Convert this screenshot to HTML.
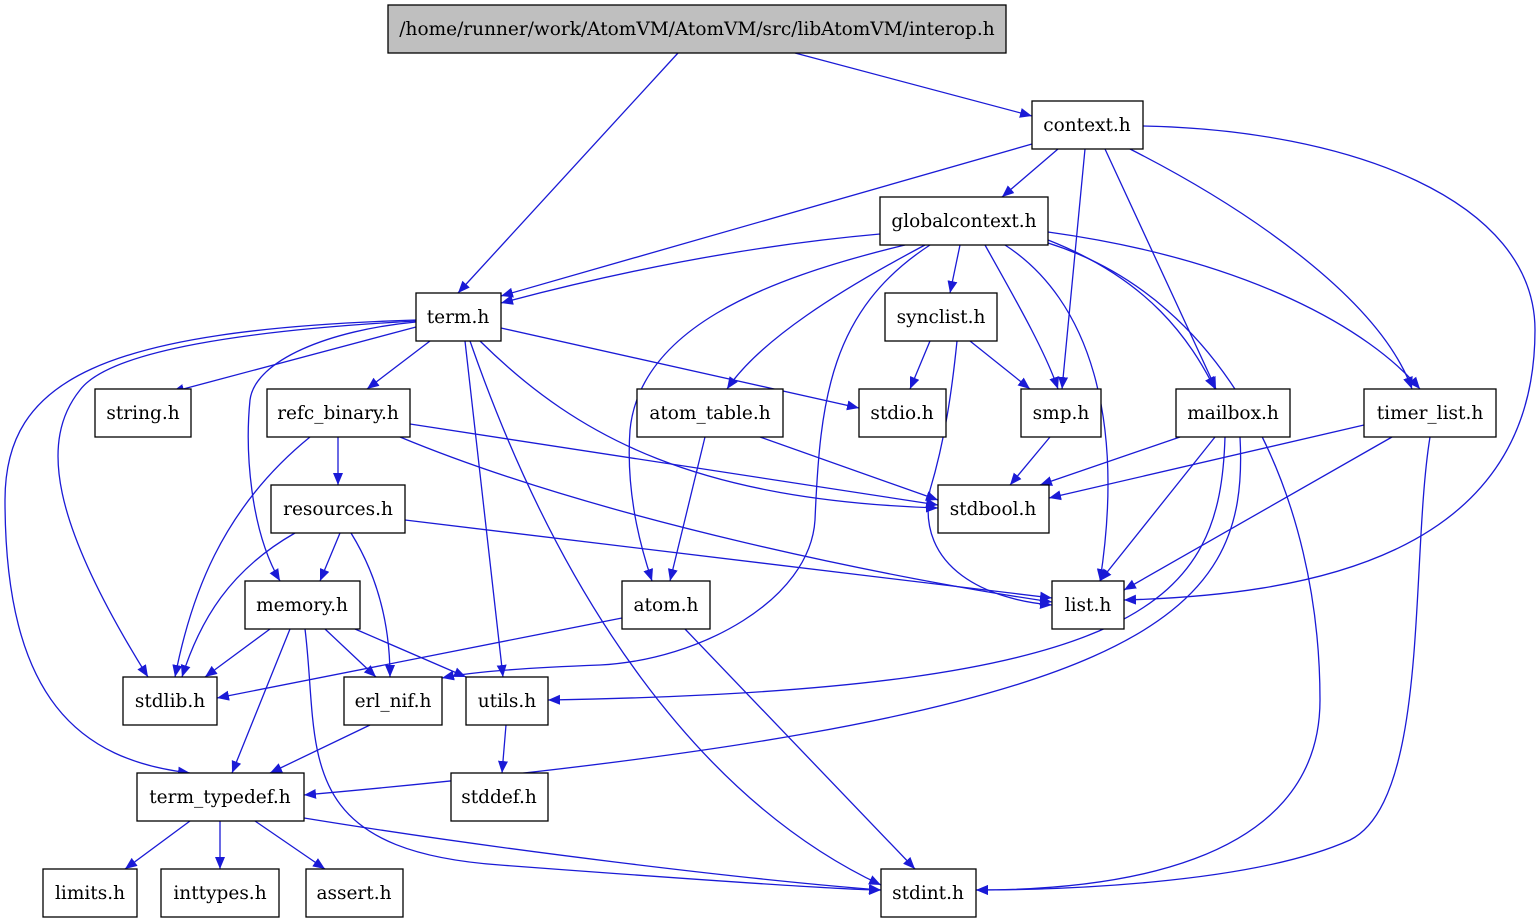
<!DOCTYPE html>
<html><head><meta charset="utf-8"><style>
html,body{margin:0;padding:0;background:#fff;}
svg{display:block;}
text{font-family:"DejaVu Serif",serif;font-size:18.5px;fill:#000;}
.e{fill:none;stroke:#1a1ad6;stroke-width:1.3;}
.n{fill:#fff;stroke:#000;stroke-width:1.3;}
</style></head><body>
<svg width="1539" height="923" viewBox="0 0 1539 923" xmlns="http://www.w3.org/2000/svg">
<defs><marker id="a" markerUnits="userSpaceOnUse" markerWidth="12" markerHeight="12" viewBox="0 0 12 10" refX="12" refY="5" orient="auto"><path d="M0,0 L12,5 L0,10 z" fill="#1a1ad6"/></marker></defs>
<g marker-end="url(#a)">
<path class="e" d="M678,53 L458,293"/>
<path class="e" d="M795,53 L1032,116"/>
<path class="e" d="M1032,144 L501,296"/>
<path class="e" d="M1058,149 L1002,197"/>
<path class="e" d="M1085,149 L1062,389"/>
<path class="e" d="M1105,149 L1216,389"/>
<path class="e" d="M1130,149 C1250,210 1380,300 1412,389"/>
<path class="e" d="M1143,126 C1350,130 1535,200 1535,330 C1535,560 1300,595 1124,600"/>
<path class="e" d="M880,234 Q700,250 501,303"/>
<path class="e" d="M905,245 C760,280 640,330 630,430 C625,500 645,560 652,581"/>
<path class="e" d="M925,245 C840,290 760,340 727,389"/>
<path class="e" d="M930,245 C830,310 820,400 815,520 C810,600 700,660 600,665 C520,668 470,672 442,678"/>
<path class="e" d="M960,245 L950,293"/>
<path class="e" d="M985,245 C1010,290 1045,350 1058,389"/>
<path class="e" d="M1005,245 C1090,300 1125,420 1100,581"/>
<path class="e" d="M1048,240 C1150,280 1190,340 1215,389"/>
<path class="e" d="M1048,232 C1250,260 1370,330 1420,389"/>
<path class="e" d="M1048,243 C1230,300 1320,500 1320,700 C1320,870 1100,890 976,890"/>
<path class="e" d="M416,327 L172,392"/>
<path class="e" d="M430,341 L367,389"/>
<path class="e" d="M501,328 L859,408"/>
<path class="e" d="M480,341 C580,440 700,500 938,508"/>
<path class="e" d="M465,341 L503,677"/>
<path class="e" d="M470,341 C560,600 700,800 881,885"/>
<path class="e" d="M416,322 C330,330 255,360 250,400 C245,450 250,530 280,581"/>
<path class="e" d="M416,321 C250,330 110,350 80,390 C40,440 50,520 148,677"/>
<path class="e" d="M416,320 C100,330 5,380 5,500 C5,700 80,760 190,773"/>
<path class="e" d="M338,437 L338,485"/>
<path class="e" d="M310,437 C220,510 190,600 175,677"/>
<path class="e" d="M410,424 L938,505"/>
<path class="e" d="M400,437 C600,520 900,580 1052,602"/>
<path class="e" d="M760,437 L938,500"/>
<path class="e" d="M705,437 L670,581"/>
<path class="e" d="M930,341 L910,389"/>
<path class="e" d="M970,341 L1030,389"/>
<path class="e" d="M957,341 C952,390 945,440 930,490 C915,570 990,600 1052,605"/>
<path class="e" d="M1050,437 L1010,485"/>
<path class="e" d="M1180,437 L1040,485"/>
<path class="e" d="M1215,437 L1100,581"/>
<path class="e" d="M1225,437 C1220,600 1150,690 548,700"/>
<path class="e" d="M1240,437 C1250,620 1150,720 304,795"/>
<path class="e" d="M1364,425 L1049,498"/>
<path class="e" d="M1392,437 L1124,590"/>
<path class="e" d="M1430,437 C1410,560 1430,800 1350,840 C1250,885 1050,890 976,890"/>
<path class="e" d="M340,533 L320,581"/>
<path class="e" d="M295,533 C230,570 200,620 182,677"/>
<path class="e" d="M351,533 C380,580 390,630 390,677"/>
<path class="e" d="M405,520 L1052,598"/>
<path class="e" d="M270,629 L205,677"/>
<path class="e" d="M325,629 L376,677"/>
<path class="e" d="M355,629 L466,677"/>
<path class="e" d="M290,629 L232,773"/>
<path class="e" d="M305,629 C320,750 290,850 500,865 C700,880 850,890 881,890"/>
<path class="e" d="M622,618 L217,698"/>
<path class="e" d="M685,629 L915,869"/>
<path class="e" d="M370,725 L270,773"/>
<path class="e" d="M506,725 L502,773"/>
<path class="e" d="M190,821 L125,869"/>
<path class="e" d="M220,821 L220,869"/>
<path class="e" d="M255,821 L325,869"/>
<path class="e" d="M304,818 C500,850 750,880 881,890"/>
</g>
<g text-anchor="middle">
<rect x="388" y="5" width="618" height="48" fill="#bfbfbf" stroke="#000" stroke-width="1.3"/><text x="697" y="35">/home/runner/work/AtomVM/AtomVM/src/libAtomVM/interop.h</text>
<rect class="n" x="1032" y="101" width="111" height="48"/><text x="1087" y="131">context.h</text>
<rect class="n" x="880" y="197" width="168" height="48"/><text x="964" y="227">globalcontext.h</text>
<rect class="n" x="416" y="293" width="85" height="48"/><text x="458" y="323">term.h</text>
<rect class="n" x="885" y="293" width="112" height="48"/><text x="941" y="323">synclist.h</text>
<rect class="n" x="95" y="389" width="96" height="48"/><text x="143" y="419">string.h</text>
<rect class="n" x="267" y="389" width="143" height="48"/><text x="338" y="419">refc_binary.h</text>
<rect class="n" x="637" y="389" width="146" height="48"/><text x="710" y="419">atom_table.h</text>
<rect class="n" x="859" y="389" width="87" height="48"/><text x="902" y="419">stdio.h</text>
<rect class="n" x="1021" y="389" width="80" height="48"/><text x="1061" y="419">smp.h</text>
<rect class="n" x="1176" y="389" width="114" height="48"/><text x="1233" y="419">mailbox.h</text>
<rect class="n" x="1364" y="389" width="132" height="48"/><text x="1430" y="419">timer_list.h</text>
<rect class="n" x="271" y="485" width="134" height="48"/><text x="338" y="515">resources.h</text>
<rect class="n" x="938" y="485" width="111" height="48"/><text x="993" y="515">stdbool.h</text>
<rect class="n" x="245" y="581" width="115" height="48"/><text x="302" y="611">memory.h</text>
<rect class="n" x="622" y="581" width="88" height="48"/><text x="666" y="611">atom.h</text>
<rect class="n" x="1052" y="581" width="72" height="48"/><text x="1088" y="611">list.h</text>
<rect class="n" x="123" y="677" width="94" height="48"/><text x="170" y="707">stdlib.h</text>
<rect class="n" x="344" y="677" width="98" height="48"/><text x="393" y="707">erl_nif.h</text>
<rect class="n" x="466" y="677" width="82" height="48"/><text x="507" y="707">utils.h</text>
<rect class="n" x="137" y="773" width="167" height="48"/><text x="220" y="803">term_typedef.h</text>
<rect class="n" x="451" y="773" width="97" height="48"/><text x="499" y="803">stddef.h</text>
<rect class="n" x="43" y="869" width="94" height="48"/><text x="90" y="899">limits.h</text>
<rect class="n" x="161" y="869" width="118" height="48"/><text x="220" y="899">inttypes.h</text>
<rect class="n" x="306" y="869" width="97" height="48"/><text x="354" y="899">assert.h</text>
<rect class="n" x="881" y="869" width="95" height="48"/><text x="928" y="899">stdint.h</text>
</g>
</svg>
</body></html>
